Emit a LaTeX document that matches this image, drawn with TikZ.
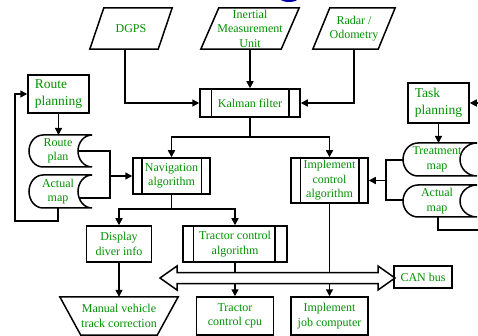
\documentclass[tikz,border=0pt]{standalone}
\usepackage{fontspec}
\setmainfont{Liberation Serif}
\usetikzlibrary{arrows.meta}
\definecolor{txtgreen}{RGB}{0,145,0}
\begin{document}
\begin{tikzpicture}[x=1pt,y=1pt,
  every node/.style={text=txtgreen, font=\fontsize{12}{14.5}\selectfont, align=center, inner sep=0pt},
  box/.style={draw=black, line width=1.5pt},
  big/.style={font=\fontsize{13.5}{16.5}\selectfont, align=left},
  ln/.style={line width=1.5pt, draw=black},
  arr/.style={ln, -{Triangle[length=7pt,width=7pt]}},
  shp/.style={line width=1.5pt, draw=black}]
\useasboundingbox (0,0) rectangle (478,-336);

% blue fragment at top
\fill[blue!65!black] (289,1.5) ellipse[x radius=9, y radius=3.5];

% sensors (parallelograms)
\node[minimum width=68, minimum height=41] (dgps) at (131,-28.5) {DGPS};
\draw[shp] ([xshift=7]dgps.north west) -- ([xshift=7]dgps.north east) -- ([xshift=-7]dgps.south east) -- ([xshift=-7]dgps.south west) -- cycle;
\node[minimum width=80, minimum height=41] (imu) at (250,-28.5) {Inertial\\Measurement\\Unit};
\draw[shp] ([xshift=9]imu.north west) -- ([xshift=9]imu.north east) -- ([xshift=-9]imu.south east) -- ([xshift=-9]imu.south west) -- cycle;
\node[minimum width=65, minimum height=41] (radar) at (354,-28.5) {Radar /\\Odometry};
\draw[shp] ([xshift=8.5]radar.north west) -- ([xshift=8.5]radar.north east) -- ([xshift=-8.5]radar.south east) -- ([xshift=-8.5]radar.south west) -- cycle;

% Kalman filter
\node[box, minimum width=100, minimum height=28] (kal) at (250,-103) {Kalman filter};
\draw[ln] ([xshift=12]kal.north west) -- ([xshift=12]kal.south west);
\draw[ln] ([xshift=-12]kal.north east) -- ([xshift=-12]kal.south east);

% planning boxes
\node[box, big, minimum width=61, minimum height=38] (route) at (58.5,-94) {Route\\planning};
\node[box, big, minimum width=61, minimum height=40] (task) at (438.5,-103) {Task\\planning};

% storage shapes left
\draw[shp] (43,-135) -- (92,-135) arc[start angle=90,end angle=270,x radius=14,y radius=16] -- (43,-167) arc[start angle=270,end angle=90,x radius=14,y radius=16] -- cycle;
\node (rplan) at (58,-151) {Route\\plan};
\draw[shp] (43,-175) -- (92,-175) arc[start angle=90,end angle=270,x radius=14,y radius=16.5] -- (43,-208) arc[start angle=270,end angle=90,x radius=14,y radius=16.5] -- cycle;
\node (amapL) at (58,-191.5) {Actual\\map};
\coordinate (rplanT) at (58.5,-135);
\coordinate (rplanR) at (78,-151);
\coordinate (amapLR) at (79,-198);
\coordinate (amapLB) at (58,-208);

% storage shapes right
\draw[shp] (418,-143) -- (477,-143) arc[start angle=90,end angle=270,x radius=17,y radius=16.5] -- (418,-176) arc[start angle=270,end angle=90,x radius=15,y radius=16.5] -- cycle;
\node (tmap) at (437,-159.5) {Treatment\\map};
\draw[shp] (418,-185) -- (477,-185) arc[start angle=90,end angle=270,x radius=17,y radius=16] -- (418,-217) arc[start angle=270,end angle=90,x radius=15,y radius=16] -- cycle;
\node (amapR) at (437,-201) {Actual\\map};
\coordinate (tmapT) at (438.5,-143);
\coordinate (tmapL) at (403,-160);
\coordinate (amapRL) at (403,-200);
\coordinate (amapRB) at (438,-217);

% algorithm boxes
\node[box, minimum width=77, minimum height=36] (nav) at (171.5,-176) {Navigation\\algorithm};
\draw[ln] ([xshift=9.5]nav.north west) -- ([xshift=9.5]nav.south west);
\draw[ln] ([xshift=-9.5]nav.north east) -- ([xshift=-9.5]nav.south east);
\node[box, minimum width=77, minimum height=45] (impl) at (329.5,-180.5) {Implement\\control\\algorithm};
\draw[ln] ([xshift=10]impl.north west) -- ([xshift=10]impl.south west);
\draw[ln] ([xshift=-10]impl.north east) -- ([xshift=-10]impl.south east);
\node[box, minimum width=65, minimum height=36] (disp) at (119,-244) {Display\\diver info};
\node[box, minimum width=104, minimum height=36] (trac) at (235,-244) {Tractor control\\algorithm};
\draw[ln] ([xshift=11]trac.north west) -- ([xshift=11]trac.south west);
\draw[ln] ([xshift=-13]trac.north east) -- ([xshift=-13]trac.south east);

% bottom row
\node[minimum width=118, minimum height=38] (man) at (119,-316) {Manual vehicle\\track correction};
\draw[shp] (man.north west) -- (man.north east) -- ([xshift=-21]man.south east) -- ([xshift=21]man.south west) -- cycle;
\node[box, minimum width=77, minimum height=38] (cpu) at (235,-316) {Tractor\\control cpu};
\node[box, minimum width=77, minimum height=38] (job) at (329.5,-316) {Implement\\job computer};
\node[box, minimum width=58, minimum height=22] (can) at (423,-277) {CAN bus};

% CAN bus double arrow
\draw[shp] (160,-278) -- (177,-266) -- (177,-272.5) -- (378,-272.5) -- (378,-266) -- (395,-278) -- (378,-290) -- (378,-283.5) -- (177,-283.5) -- (177,-290) -- cycle;
\coordinate (busTop) at (0,-272.5);
\coordinate (busBot) at (0,-283.5);

% connectors: sensors to Kalman
\draw[arr] ([xshift=-6]dgps.south) |- (kal.west);
\draw[arr] (imu.south) -- (kal.north);
\draw[arr] (radar.south) |- (kal.east);

% Kalman to algorithms
\coordinate (kb) at (250,-137);
\draw[ln] (kal.south) -- (kb);
\draw[arr] (kb) -| (nav.north);
\draw[arr] (kb) -| (impl.north);

% route planning loop
\draw[arr] (route.south) -- (rplanT);
\coordinate (jL) at (110,-176);
\draw[ln] (rplanR) -| (jL);
\draw[ln] (amapLR) -| (jL);
\draw[arr] (jL) -- (nav.west);
\coordinate (loopL) at (15,-221);
\draw[arr] (amapLB) |- (loopL) |- (route.west);

% task planning
\coordinate (edgeT) at (478,-103);
\coordinate (edgeB) at (478,-230);
\draw[arr] (edgeT) -- (task.east);
\draw[arr] (task.south) -- (tmapT);
\coordinate (jR) at (386,-180.5);
\draw[ln] (tmapL) -| (jR);
\draw[ln] (amapRL) -| (jR);
\draw[arr] (jR) -- (impl.east);
\draw[ln] (amapRB) |- (edgeB);

% navigation to display / tractor
\coordinate (nb) at (171.5,-209);
\draw[ln] (nav.south) -- (nb);
\draw[arr] (nb) -| (disp.north);
\draw[arr] (nb) -| (trac.north);
\draw[arr] (disp.south) -- (man.north);

% to CAN bus and computers
\draw[ln] (trac.south) -- (trac.south |- busTop);
\draw[ln] (impl.south) -- (impl.south |- busTop);
\draw[arr] (cpu.north |- busBot) -- (cpu.north);
\draw[arr] (job.north |- busBot) -- (job.north);
\end{tikzpicture}
\end{document}
